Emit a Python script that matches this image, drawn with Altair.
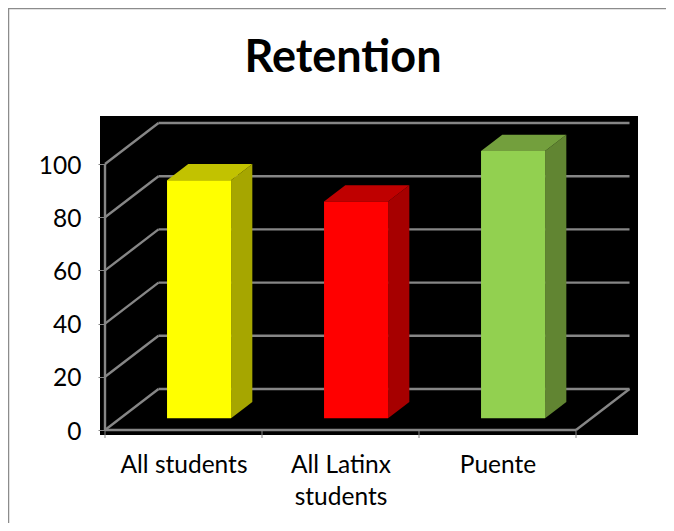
import altair as alt
import pandas as pd

categories = ["All students", "All Latinx students", "Puente"]
values = [89.5, 81.5, 100.5]
y_ticks = [0, 20, 40, 60, 80, 100]
x_ticks = [0, 1, 2, 3]
front_colors = ["#FFFF00", "#FF0000", "#92D050"]
side_colors = ["#A6A600", "#A60000", "#618532"]
top_colors = ["#C2C200", "#BF0000", "#739F3D"]
GRID = "#868686"
FONT = "Lato"

W, H = 658, 515
PX_X = 157.0      # pixels per category
PX_Y = 2.66       # pixels per value unit
X0, Y0 = 97.0, 422.0  # pixel position of the floor's front-left corner
DX, DY = 53.5 / PX_X, 41.0 / PX_Y  # full-depth shift, in data units
BAR_LEFT, BAR_W = 0.298, 0.408
D0, D1 = 0.285, 0.682   # bar front and back depth


def px(x, d=0.0):
    return x + d * DX


def py(v, d=0.0):
    return v + d * DY


xa, xb = -X0 / PX_X, (W - X0) / PX_X
ya, yb = (Y0 - H) / PX_Y, Y0 / PX_Y
xs = alt.Scale(domain=[xa, xb], range=[0, W], nice=False, zero=False)
ys = alt.Scale(domain=[ya, yb], range=[H, 0], nice=False, zero=False)
X = lambda f="x": alt.X(f"{f}:Q", scale=xs, axis=None)
Y = lambda f="y": alt.Y(f"{f}:Q", scale=ys, axis=None)
X2 = lambda f="x2": alt.X2(f"{f}:Q")
Y2 = lambda f="y2": alt.Y2(f"{f}:Q")

# axes (drawn from an invisible layer)
label_expr = "datum.value < 1 ? 'All students' : datum.value < 2 ? ['All Latinx', 'students'] : 'Puente'"
axes = alt.Chart(pd.DataFrame({"x": [0.5, 1.5, 2.5], "y": [0, 50, 100]})).mark_point(opacity=0).encode(
    x=alt.X(
        "x:Q",
        scale=xs,
        axis=alt.Axis(
            values=[0.5, 1.5, 2.5],
            labelExpr=label_expr,
            title=None,
            grid=False,
            domain=False,
            ticks=False,
            offset=Y0 - H,
            labelPadding=23,
            labelFont=FONT,
            labelFontSize=24.5,
            labelColor="black",
            labelLineHeight=32,
            labelOverlap=False,
            labelFlush=False,
            labelBound=False,
            zindex=1,
        ),
    ),
    y=alt.Y(
        "y:Q",
        scale=ys,
        axis=alt.Axis(
            values=y_ticks,
            title=None,
            grid=False,
            domain=False,
            tickColor=GRID,
            tickSize=7,
            tickWidth=1,
            offset=-X0,
            labelPadding=17,
            labelOffset=2,
            labelFont=FONT,
            labelFontSize=24.5,
            labelColor="black",
            labelOverlap=False,
            labelFlush=False,
            labelBound=False,
            zindex=1,
        ),
    ),
)

# background panel
bg = alt.Chart(pd.DataFrame([{"x": -5 / PX_X, "x2": 533 / PX_X, "y": -5 / PX_Y, "y2": 314 / PX_Y}])).mark_rect(
    color="black"
).encode(x=X(), x2=X2(), y=Y(), y2=Y2())

# chart frame
frame_df = pd.DataFrame(
    [
        {"x": xa + 0.5 / PX_X, "x2": xa + 0.5 / PX_X, "y": ya, "y2": yb - 0.5 / PX_Y},
        {"x": xa, "x2": xb, "y": yb - 0.5 / PX_Y, "y2": yb - 0.5 / PX_Y},
    ]
)
frame = alt.Chart(frame_df).mark_rule(color="#8c8c8c", strokeWidth=1.5).encode(x=X(), x2=X2(), y=Y(), y2=Y2())

# gridlines: side wall diagonal + back wall horizontal
segs = []
for t in y_ticks:
    segs.append({"x": 0, "x2": px(0, 1), "y": py(t), "y2": py(t, 1)})
    segs.append({"x": px(0, 1), "x2": px(3, 1), "y": py(t, 1), "y2": py(t, 1)})
# floor right edge + front edge + vertical axis line
segs.append({"x": 3, "x2": px(3, 1), "y": 0, "y2": py(0, 1)})
segs.append({"x": 0, "x2": 3, "y": 0, "y2": 0})
segs.append({"x": 0, "x2": 0, "y": 0, "y2": 100})
grid = alt.Chart(pd.DataFrame(segs)).mark_rule(color=GRID, strokeWidth=2.4).encode(x=X(), x2=X2(), y=Y(), y2=Y2())

# x ticks
xt = alt.Chart(pd.DataFrame({"x": x_ticks, "y": [0] * 4, "y2": [-3] * 4})).mark_rule(
    color=GRID, strokeWidth=1
).encode(x=X(), y=Y(), y2=Y2())

# bars
front_rows, side_rows, top_rows = [], [], []
for i, (c, v) in enumerate(zip(categories, values)):
    l = i + BAR_LEFT
    r = l + BAR_W
    front_rows.append({"c": c, "x": px(l, D0), "x2": px(r, D0), "y": py(0.0, D0), "y2": py(v, D0)})
    for d in (D0, D1):
        side_rows.append({"c": c, "x": px(r, d), "y": py(0.0, d), "y2": py(v, d)})
        top_rows.append({"c": c, "x": px(l, d), "x2": px(r, d), "y": py(v, d)})


def col(rng):
    return alt.Color("c:N", scale=alt.Scale(domain=categories, range=rng), legend=None)


front = alt.Chart(pd.DataFrame(front_rows)).mark_rect().encode(x=X(), x2=X2(), y=Y(), y2=Y2(), color=col(front_colors))
side = alt.Chart(pd.DataFrame(side_rows)).mark_area(orient="vertical", interpolate="linear").encode(
    x=X(), y=Y(), y2=Y2(), color=col(side_colors), detail="c:N"
)
topf = alt.Chart(pd.DataFrame(top_rows)).mark_area(orient="horizontal", interpolate="linear").encode(
    y=Y(), x=X(), x2=X2(), color=col(top_colors), detail="c:N"
)

chart = (
    alt.layer(axes, bg, frame, grid, xt, side, topf, front)
    .resolve_scale(color="independent")
    .resolve_axis(x="independent", y="independent")
    .properties(
        width=W,
        height=H,
        padding=0,
        autosize=alt.AutoSizeParams(type="none"),
        title=alt.TitleParams(
            "Retention",
            font=FONT,
            fontSize=45,
            fontWeight="bold",
            color="black",
            anchor="middle",
            offset=-73,
            dx=6,
        ),
    )
    .configure_view(stroke=None)
)

chart.save("out.html", embed_options={"renderer": "svg", "actions": False})
